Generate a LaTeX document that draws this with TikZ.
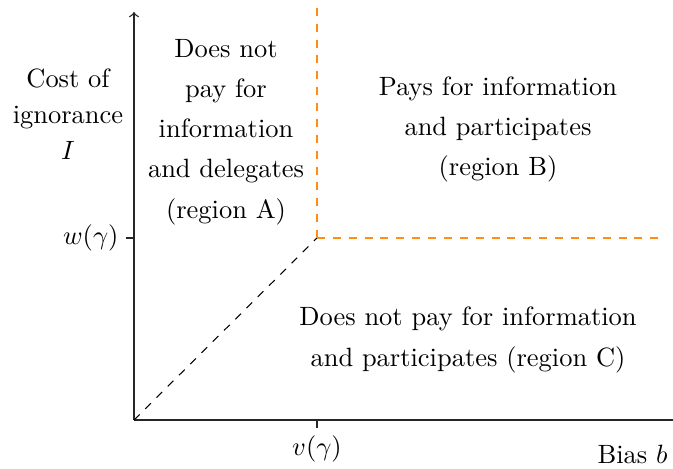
\documentclass[tikz,border=0pt]{standalone}
\usepackage{amsmath}
\definecolor{regorange}{RGB}{255,140,20}
\begin{document}
\begin{tikzpicture}[x=0.378pt,y=-0.378pt,
  axis/.style={line width=0.5pt,black!85},
  bound/.style={dashed,regorange,line width=0.45pt},
  diag/.style={dashed,black,line width=0.4pt},
  lbl/.style={inner sep=0pt,align=center,font=\fontsize{10}{15.2}\selectfont},
  tick/.style={line width=0.5pt,black!85}]
\useasboundingbox (0,0) rectangle (673,469);
% axes
\coordinate (O) at (134,420);
\coordinate (Ytop) at (134,12);
\coordinate (Xend) at (673,420);
\coordinate (K) at (317,238);
\coordinate (Ktop) at (317,0);
\coordinate (Kright) at (663,238);
\coordinate (Wt) at (126,238);
\coordinate (Wa) at (134,238);
\coordinate (Vt) at (317,428);
\coordinate (Va) at (317,420);
\draw[axis,-to] (O) -- (Ytop);
\draw[axis] (O) -- (Xend);
\draw[tick] (Wt) -- (Wa);
\draw[tick] (Va) -- (Vt);
% boundaries
\draw[diag] (O) -- (K);
\draw[bound] (K) -- (Ktop);
\draw[bound] (K) -- (Kright);
% labels
\node[lbl,font=\fontsize{10}{13.6}\selectfont] (ylab) at (68,114.5) {Cost of\\ignorance\\$I$};
\node[inner sep=0pt,anchor=east] (w) at (119,238) {$w(\gamma)$};
\node[inner sep=0pt,anchor=base] (v) at (317,456) {$v(\gamma)$};
\node[inner sep=0pt,anchor=base east] (xlab) at (668,464) {Bias $b$};
\node[lbl] (A) at (226,132) {Does not\\pay for\\information\\and delegates\\(region A)};
\node[lbl] (B) at (498,129.5) {Pays for information\\and participates\\(region B)};
\node[lbl] (C) at (468,340) {Does not pay for information\\and participates (region C)};
\end{tikzpicture}
\end{document}
